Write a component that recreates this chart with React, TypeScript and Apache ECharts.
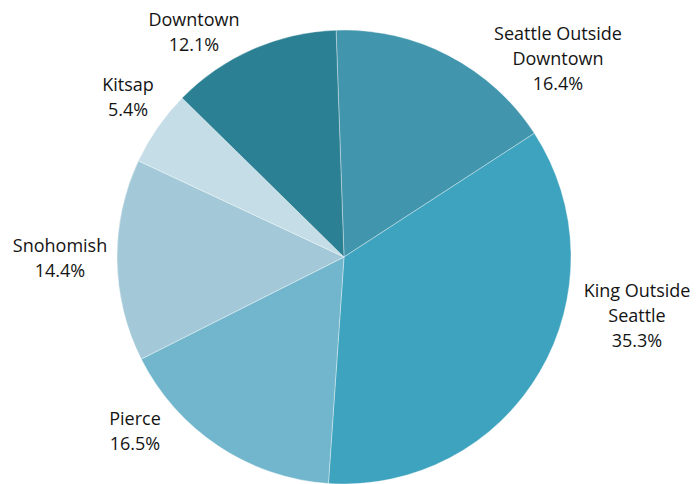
import React, { useEffect, useRef } from "react";
import * as echarts from "echarts";

const categories = [
  "Seattle Outside Downtown",
  "King Outside Seattle",
  "Pierce",
  "Snohomish",
  "Kitsap",
  "Downtown",
];
const labelTexts = [
  "Seattle Outside\nDowntown",
  "King Outside\nSeattle",
  "Pierce",
  "Snohomish",
  "Kitsap",
  "Downtown",
];
const shares = [16.4, 35.3, 16.5, 14.4, 5.4, 12.1];
const colors = ["#4195AC", "#3EA3BE", "#71B6CC", "#A3C9D9", "#C5DDE7", "#2C8093"];
// label centres (styling)
const labelPos: [number, number][] = [
  [558, 58],
  [637, 315],
  [135, 430],
  [60, 257],
  [128, 96],
  [194, 31],
];

export default function App() {
  const ref = useRef<HTMLDivElement>(null);
  useEffect(() => {
    document.body.style.margin = "0";
    const chart = echarts.init(ref.current!, undefined, { renderer: "svg" });
    chart.setOption({
      animation: false,
      backgroundColor: "#ffffff",
      series: [
        {
          type: "pie",
          center: [344, 257],
          radius: [0, 227],
          startAngle: 92,
          clockwise: true,
          avoidLabelOverlap: false,
          data: categories.map((c, i) => ({
            name: c,
            value: shares[i],
            itemStyle: { color: colors[i] },
          })),
          itemStyle: { borderColor: "rgba(255,255,255,0.6)", borderWidth: 0.6 },
          label: {
            show: true,
            position: "outside",
            formatter: (p: any) => `${labelTexts[p.dataIndex]}\n${shares[p.dataIndex].toFixed(1)}%`,
            fontFamily: "Open Sans",
            fontSize: 18,
            lineHeight: 25,
            color: "#141414",
            align: "center",
          },
          labelLine: { show: false },
          labelLayout: (params: any) => ({
            x: labelPos[params.dataIndex][0],
            y: labelPos[params.dataIndex][1],
            align: "center",
            verticalAlign: "middle",
          }),
          emphasis: { disabled: true },
        },
      ],
    });
    return () => chart.dispose();
  }, []);
  return <div ref={ref} style={{ width: 699, height: 484 }} />;
}
